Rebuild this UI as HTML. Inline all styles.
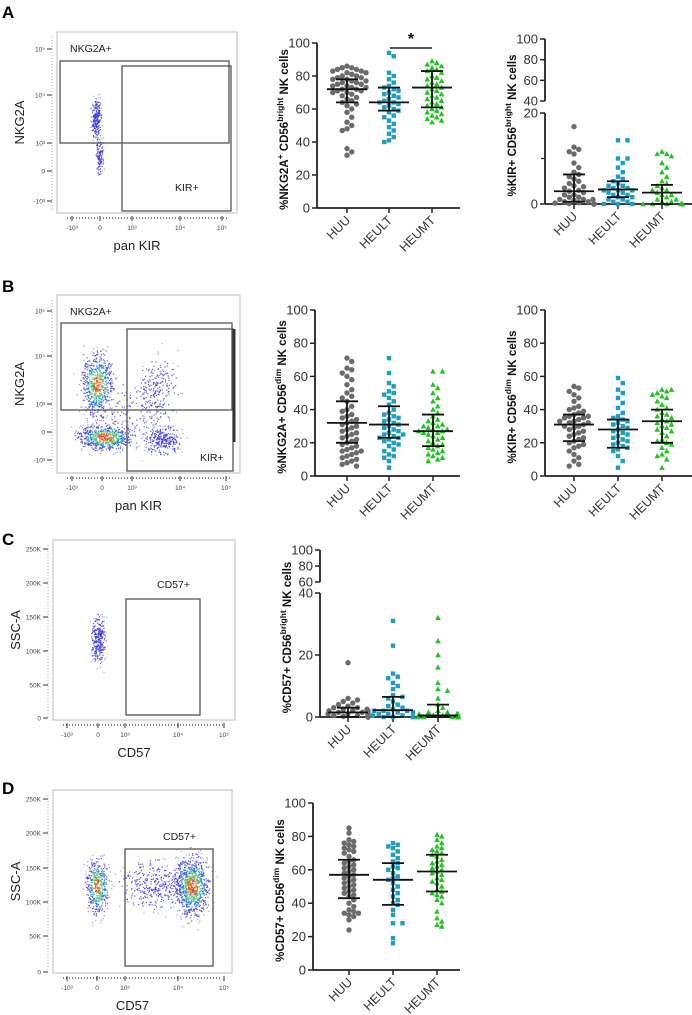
<!DOCTYPE html>
<html><head><meta charset="utf-8"><style>
html,body{margin:0;padding:0;background:#fff}
svg{display:block;font-family:"Liberation Sans",Arial,sans-serif}
</style></head><body>
<svg id="fig" width="692" height="1015" viewBox="0 0 692 1015" xmlns="http://www.w3.org/2000/svg">
<text x="2" y="18" font-size="17" font-weight="bold">A</text>
<text x="2" y="292" font-size="17" font-weight="bold">B</text>
<text x="2" y="545" font-size="17" font-weight="bold">C</text>
<text x="2" y="794" font-size="17" font-weight="bold">D</text>
</svg>
<script>
const NS="http://www.w3.org/2000/svg";
const svg=document.getElementById('fig');
function mk(tag,attrs,parent){const e=document.createElementNS(NS,tag);for(const k in attrs)e.setAttribute(k,attrs[k]);(parent||svg).appendChild(e);return e;}

const categories=["HUU","HEULT","HEUMT"];
// Chart A1
const a1HUU=[86,85,85,84,84,83,83,82,82,81,80,80,79,79,78,78,77,77,76,76,75,75,74,74,73,73,72,72,71,71,70,70,69,68,67,66,65,64,63,62,60,58,55,52,50,48,47,36,34,32];
const a1HEULT=[94,92,82,80,78,76,74,73,72,71,70,69,68,67,66,65,64,64,63,62,61,60,59,58,56,55,53,51,49,47,45,43,41,40];
const a1HEUMT=[89,88,87,86,85,84,83,82,80,79,78,77,76,75,74,73,72,71,70,69,68,67,66,65,64,63,62,61,60,59,58,57,56,55,54,53,52];
const a1Stats=[[72,64,78],[64,59,73],[73,61,83]];
// Chart A2
const a2HUU=[17,12.5,12,11.5,11,9,8,7,6.5,6,5.5,5,4.5,4,3.8,3.5,3,2.8,2.5,2,2,1.5,1.5,1,1,1,0.8,0.5,0.5,0.3,0.2,0.1,0,0,0,0,0,0,0,0];
const a2HEULT=[14,14,10,10,9,8,7,6,5.5,5,4.5,4,4,3.5,3.5,3,3,3,2.5,2.5,2,2,1.5,1.5,1,1,0.5,0.5,0,0,0];
const a2HEUMT=[11.5,11,11,10.5,9,8,7,6,5,4.5,4,3.5,3,3,2.5,2,2,1.5,1,1,0.5,0.5,0,0,0,0,0,0,0,0,0,0,0,0];
const a2Stats=[[2.8,0.5,6.5],[3.2,1.5,5],[2.5,0,4.2]];
// Chart B1
const b1HUU=[71,69,65,64,62,60,58,55,52,50,48,47,45,42,40,39,37,36,35,34,33,32,31,30,29,28,27,26,25,24,23,22,21,20,19,18,17,16,15,15,14,13,12,11,10,9,8,7,6];
const b1HEULT=[71,62,56,54,51,50,49,47,45,43,40,38,37,36,35,34,33,32,31,30,29,28,27,26,25,25,24,23,23,22,21,20,19,18,16,15,13,12,11,9,5];
const b1HEUMT=[63,63,55,53,50,47,45,42,40,38,36,34,33,32,31,30,30,29,28,28,27,27,26,26,25,24,23,22,21,20,19,18,17,16,15,14,13,12,11,10,9];
const b1Stats=[[32,20,45],[31,23,42],[27,18,37]];
// Chart B2
const b2HUU=[54,53,51,49,47,45,42,41,40,39,38,37,36,36,35,35,34,33,33,32,32,31,30,30,29,28,27,26,25,24,23,22,21,20,19,18,17,15,13,11,9,7,6];
const b2HEULT=[59,56,52,50,47,44,41,38,36,35,34,33,32,31,30,29,28,27,26,25,24,23,22,21,20,19,18,17,16,15,12,9,5];
const b2HEUMT=[52,52,51,50,49,48,47,45,43,41,40,38,37,36,35,34,33,32,31,30,29,28,27,26,24,22,21,20,19,17,15,13,12,10,5];
const b2Stats=[[31,21,37],[28,17,34],[33,20,40]];
// Chart C
const cHUU=[17.5,6,5.5,5,4.5,4,3.5,3,3,2.5,2.5,2,2,2,1.5,1.5,1.5,1,1,1,1,0.5,0.5,0.5,0.5,0.2,0.2,0,0,0,0,0,0,0,0];
const cHEULT=[31,23,14,13,12.5,11,10,9,7,6.5,6,5,4,3.5,3,2.5,2,2,2,1.5,1.5,1,1,0.5,0.5,0,0,0,0,0];
const cHEUMT=[32,24.5,20,16,11,9,8.5,6,4,3,2,1.5,1.5,1,1,1,0.5,0.5,0.5,0,0,0,0,0,0,0,0,0];
const cStats=[[1.5,0,3],[2.2,0,6.5],[0.5,0,4]];
// Chart D
const dHUU=[85,82,78,77,76,75,74,73,72,71,70,68,66,65,64,63,62,61,60,59,58,57,56,55,54,53,52,51,50,49,48,47,46,45,44,42,40,38,36,35,34,34,33,32,30,24];
const dHEULT=[76,75,74,73,71,69,67,65,64,62,61,60,58,56,55,54,52,50,48,46,44,42,40,39,36,33,28,28,19,16];
const dHEUMT=[81,80,78,76,74,73,72,71,70,69,68,66,65,64,63,62,61,60,59,58,57,55,54,53,52,50,48,47,46,45,44,42,40,35,31,29,27,26];
const dStats=[[57,43,66],[54,39,64],[59,47,69]];
// Tick labels
const ticks100=[0,20,40,60,80,100];
const ticksA2top=[40,60,80,100], ticksA2low=[0,20];
const ticksCtop=[60,80,100], ticksClow=[0,20,40];

const COLORS=["#6b6b6b","#1f9fc0","#22c422"];

function makeScale(segs){
  return v=>{for(const s of segs){if(v>=s.min&&v<=s.max)return s.p0+(v-s.min)/(s.max-s.min)*(s.p1-s.p0);}
    const s=segs[segs.length-1];return s.p1;};
}

function marker(g,shape,x,y,c,name){
  let e;
  if(shape===0){e=mk('circle',{cx:x,cy:y,r:2.7,fill:c},g);}
  else if(shape===1){e=mk('rect',{x:x-2.2,y:y-2.2,width:4.4,height:4.4,fill:c},g);}
  else {e=mk('polygon',{points:`${x},${y-3} ${x-2.8},${y+2.2} ${x+2.8},${y+2.2}`,fill:c},g);}
  
  
}

function chart(cfg){
  const g=mk('g',{});
  
  
  const y=makeScale(cfg.segs);
  const ax=cfg.ax;
  cfg.segs.forEach((s,i)=>{
    const ln=mk('line',{x1:ax,x2:ax,y1:s.p0,y2:s.p1,stroke:'#222','stroke-width':1.8},g);
    
    
    s.ticks.forEach(t=>{
      const py=y(t);
      mk('line',{x1:ax-5,x2:ax,y1:py,y2:py,stroke:'#222','stroke-width':1.5},g);
      const tx=mk('text',{x:ax-7,y:py+4.5,'font-size':13,'text-anchor':'end',fill:'#333'},g);
      tx.textContent=t;
      
      
    });
    (s.minor||[]).forEach(t=>{const py=y(t);mk('line',{x1:ax-4,x2:ax,y1:py,y2:py,stroke:'#222','stroke-width':1.2},g);});
  });
  const y0=cfg.segs[0].p0;
  const xl=mk('line',{x1:ax,x2:cfg.axEnd,y1:y0,y2:y0,stroke:'#222','stroke-width':1.8},g);
  
  
  cfg.groups.forEach((vals,gi)=>{
    const cx=cfg.cats[gi];
    mk('line',{x1:cx,x2:cx,y1:y0,y2:y0+5,stroke:'#222','stroke-width':1.5},g);
    const lbl=mk('text',{x:0,y:0,'font-size':12.5,'text-anchor':'end',fill:'#333',transform:`translate(${cx+4},${y0+13}) rotate(-45)`},g);
    lbl.textContent=categories[gi];
    
    
    const placed=[];const d=5.0;
    vals.forEach(v=>{
      const py=y(v);let off=0;
      for(let k=0;k<40;k++){
        const o=(k%2?1:-1)*Math.ceil(k/2)*d*0.95;
        if(!placed.some(p=>Math.hypot(p[0]-o,p[1]-py)<d)){off=o;break;}
        off=o;
      }
      off=Math.max(-20,Math.min(20,off));
      placed.push([off,py]);
      marker(g,gi,cx+off,py,COLORS[gi],'data-point-'+categories[gi].toLowerCase());
    });
    const st=cfg.stats[gi];
    const eb=mk('g',{stroke:'#111','stroke-width':1.8},g);
    
    
    mk('line',{x1:cx,x2:cx,y1:y(st[1]),y2:y(st[2])},eb);
    mk('line',{x1:cx-20,x2:cx+20,y1:y(st[0]),y2:y(st[0])},eb);
    mk('line',{x1:cx-11,x2:cx+11,y1:y(st[1]),y2:y(st[1])},eb);
    mk('line',{x1:cx-11,x2:cx+11,y1:y(st[2]),y2:y(st[2])},eb);
  });
  const top=cfg.segs[cfg.segs.length-1].p1;
  const mid=(top+y0)/2+4;
  const t=mk('text',{x:0,y:0,'font-size':11.5,'font-weight':'bold','text-anchor':'middle',fill:'#111',transform:`translate(${ax-29},${mid}) rotate(-90)`},g);
  
  
  cfg.title.forEach(p=>{const a={};if(p[1]<0){a['font-size']=8.5;}if(p[1])a.dy=p[1];const ts=mk('tspan',a,t);ts.textContent=p[0];});
  return {g,y};
}

const titleSup=(a,sup,b)=>[[a,0],[sup,-5],[b,5]];
chart({name:'chart-a-nkg2a-bright',ax:317,axEnd:460,cats:[347,389,432],
  segs:[{min:0,max:100,p0:208,p1:43,ticks:ticks100}],groups:[a1HUU,a1HEULT,a1HEUMT],stats:a1Stats,
  title:[["%NKG2A",0],["+",-5],[" CD56",5],["bright",-5],[" NK cells",5]]});
const sg=mk('g',{});
mk('line',{x1:390,x2:432,y1:48,y2:48,stroke:'#222','stroke-width':1.5},sg);
const star=mk('text',{x:411,y:44,'font-size':16,'font-weight':'bold','text-anchor':'middle'},sg);star.textContent='*';

chart({name:'chart-a-kir-bright',ax:545,axEnd:692,cats:[574,618,662],
  segs:[{min:0,max:20,p0:204,p1:113,ticks:ticksA2low,minor:[10]},{min:40,max:100,p0:101,p1:39,ticks:ticksA2top}],
  groups:[a2HUU,a2HEULT,a2HEUMT],stats:a2Stats,title:titleSup("%KIR+ CD56","bright"," NK cells")});
chart({name:'chart-b-nkg2a-dim',ax:315,axEnd:460,cats:[347,389,433],
  segs:[{min:0,max:100,p0:476,p1:310,ticks:ticks100}],groups:[b1HUU,b1HEULT,b1HEUMT],stats:b1Stats,
  title:titleSup("%NKG2A+ CD56","dim"," NK cells")});
chart({name:'chart-b-kir-dim',ax:545,axEnd:692,cats:[574,618,662],
  segs:[{min:0,max:100,p0:476,p1:310,ticks:ticks100}],groups:[b2HUU,b2HEULT,b2HEUMT],stats:b2Stats,
  title:titleSup("%KIR+ CD56","dim"," NK cells")});
chart({name:'chart-c-cd57-bright',ax:320,axEnd:460,cats:[348,393,438],
  segs:[{min:0,max:40,p0:717,p1:593,ticks:ticksClow},{min:60,max:100,p0:582,p1:550,ticks:ticksCtop}],
  groups:[cHUU,cHEULT,cHEUMT],stats:cStats,title:titleSup("%CD57+ CD56","bright"," NK cells")});
chart({name:'chart-d-cd57-dim',ax:313,axEnd:460,cats:[349,393,437],
  segs:[{min:0,max:100,p0:970,p1:803,ticks:ticks100}],groups:[dHUU,dHEULT,dHEUMT],stats:dStats,
  title:titleSup("%CD57+ CD56","dim"," NK cells")});

// ---------- flow cytometry plots (decorative) ----------
let seed=12345;function rnd(){seed=(seed*1103515245+12345)%2147483648;return seed/2147483648;}
function gauss(){return (rnd()+rnd()+rnd()+rnd()-2)/1.2;}
function flow(f){
  const g=mk('g',{});
  const fr=mk('rect',{x:f.x0,y:f.y0,width:f.x1-f.x0,height:f.y1-f.y0,fill:'none',stroke:'#bbb','stroke-width':1},g);
  
  f.clouds.forEach(c=>{for(let i=0;i<c.n;i++){const dx=gauss()*c.sx,dy=gauss()*c.sy;const r=Math.hypot(dx/c.sx,dy/c.sy);
    let col='#3535e8';if(c.hot&&r<0.3)col=rnd()<0.5?'#e0a020':'#e03020';else if(c.hot&&r<0.5)col=rnd()<0.5?'#30c0a0':'#80d040';else if(c.hot&&r<0.7)col='#1070e0';
    else if(r>1.1)col='#8a8af5';
    mk('rect',{x:c.x+dx,y:c.y+dy,width:1.2,height:1.2,fill:col,opacity:0.8},g);}});
  f.gates.forEach(q=>{const r=mk('rect',{x:q[0],y:q[1],width:q[2]-q[0],height:q[3]-q[1],fill:'none',stroke:'#555','stroke-width':1.3},g);
    });
  f.labels.forEach(l=>{const t=mk('text',{x:l[1],y:l[2],'font-size':10.5,fill:'#222'},g);t.textContent=l[0];});
  f.yt.forEach(t=>{mk('line',{x1:f.x0-10,x2:f.x0-5,y1:t[1],y2:t[1],stroke:'#333','stroke-width':1},g);
    const tx=mk('text',{x:f.x0-12,y:t[1]+2.5,'font-size':6.5,'text-anchor':'end',fill:'#444'},g);tx.textContent=t[0];});
  mk('line',{x1:f.x0-5,x2:f.x0-5,y1:f.y0+5,y2:f.y1-2,stroke:'#777','stroke-width':0.6,'stroke-dasharray':'1 2'},g);
  f.xt.forEach(t=>{mk('line',{x1:t[1],x2:t[1],y1:f.y1+3,y2:f.y1+8,stroke:'#333','stroke-width':1},g);
    const tx=mk('text',{x:t[1],y:f.y1+17,'font-size':6.5,'text-anchor':'middle',fill:'#444'},g);tx.textContent=t[0];});
  mk('line',{x1:f.x0+10,x2:f.x1-10,y1:f.y1+5,y2:f.y1+5,stroke:'#555','stroke-width':2,'stroke-dasharray':'0.7 2.3'},g);
  const xl=mk('text',{x:(f.x0+f.x1)/2-10,y:f.y1+37,'font-size':13,'text-anchor':'middle',fill:'#222'},g);xl.textContent=f.xlab;
  
  const yl=mk('text',{x:0,y:0,'font-size':13,'text-anchor':'middle',fill:'#222',transform:`translate(${f.x0-33},${(f.y0+f.y1)/2}) rotate(-90)`},g);yl.textContent=f.ylab;
  
}
const kirX=[["-10³",72],["0",100],["10³",132],["10⁴",180],["10⁵",222]];
flow({name:'flow-plot-a',x0:57,x1:237,y0:32,y1:213,xlab:'pan KIR',ylab:'NKG2A',
  yt:[["10⁵",49],["10⁴",95],["10³",143],["0",171],["-10³",201]],xt:kirX,
  clouds:[{x:96,y:118,sx:5,sy:20,n:220},{x:99,y:155,sx:4,sy:18,n:110}],
  gates:[[60,61,229,143],[122,66,231,211]],labels:[["NKG2A+",70,52],["KIR+",175,191]]});
flow({name:'flow-plot-b',x0:57,x1:240,y0:295,y1:473,xlab:'pan KIR',ylab:'NKG2A',
  yt:[["10⁵",311],["10⁴",356],["10³",404],["0",432],["-10³",460]],xt:[["-10³",72],["0",102],["10³",132],["10⁴",180],["10⁵",226]],
  clouds:[{x:97,y:385,sx:16,sy:32,n:650,hot:true},{x:105,y:437,sx:28,sy:13,n:650,hot:true},{x:163,y:440,sx:18,sy:14,n:280},{x:158,y:390,sx:18,sy:32,n:200},{x:130,y:410,sx:40,sy:35,n:150}],
  gates:[[61,323,232,410],[127,329,233,471]],labels:[["NKG2A+",70,315],["KIR+",200,461]]});
mk('line',{x1:234,x2:234,y1:329,y2:442,stroke:'#333','stroke-width':3});
flow({name:'flow-plot-c',x0:53,x1:235,y0:540,y1:720,xlab:'CD57',ylab:'SSC-A',
  yt:[["250K",549],["200K",583],["150K",617],["100K",651],["50K",685],["0",718]],xt:[["-10³",67],["0",98],["10³",125],["10⁴",178],["10⁵",224]],
  clouds:[{x:98,y:640,sx:7,sy:24,n:280}],
  gates:[[126,599,200,715]],labels:[["CD57+",157,588]]});
flow({name:'flow-plot-d',x0:53,x1:232,y0:790,y1:973,xlab:'CD57',ylab:'SSC-A',
  yt:[["250K",799],["200K",833],["150K",868],["100K",902],["50K",936],["0",972]],xt:[["-10³",67],["0",97],["10³",125],["10⁴",178],["10⁵",224]],
  clouds:[{x:97,y:886,sx:11,sy:28,n:450,hot:true},{x:192,y:886,sx:18,sy:30,n:900,hot:true},{x:155,y:885,sx:35,sy:24,n:350}],
  gates:[[125,849,213,966]],labels:[["CD57+",163,840]]});
</script>
</body></html>
